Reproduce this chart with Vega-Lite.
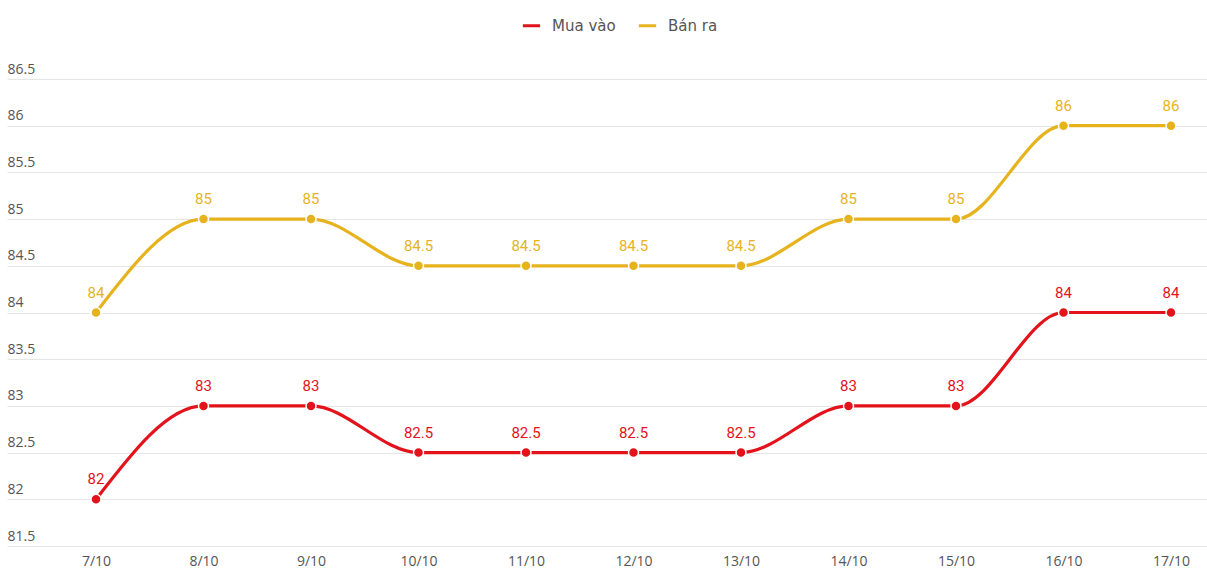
{
  "$schema": "https://vega.github.io/schema/vega-lite/v6.json",
  "width": 1200,
  "height": 467,
  "autosize": {"type": "none"},
  "padding": {"left": 7, "top": 79, "right": 0, "bottom": 37},
  "background": "white",
  "config": {
    "view": {"stroke": null},
    "font": "Open Sans"
  },
  "data": {
    "values": [
      {"date": "7/10", "series": "Mua vào", "value": 82},
      {"date": "8/10", "series": "Mua vào", "value": 83},
      {"date": "9/10", "series": "Mua vào", "value": 83},
      {"date": "10/10", "series": "Mua vào", "value": 82.5},
      {"date": "11/10", "series": "Mua vào", "value": 82.5},
      {"date": "12/10", "series": "Mua vào", "value": 82.5},
      {"date": "13/10", "series": "Mua vào", "value": 82.5},
      {"date": "14/10", "series": "Mua vào", "value": 83},
      {"date": "15/10", "series": "Mua vào", "value": 83},
      {"date": "16/10", "series": "Mua vào", "value": 84},
      {"date": "17/10", "series": "Mua vào", "value": 84},
      {"date": "7/10", "series": "Bán ra", "value": 84},
      {"date": "8/10", "series": "Bán ra", "value": 85},
      {"date": "9/10", "series": "Bán ra", "value": 85},
      {"date": "10/10", "series": "Bán ra", "value": 84.5},
      {"date": "11/10", "series": "Bán ra", "value": 84.5},
      {"date": "12/10", "series": "Bán ra", "value": 84.5},
      {"date": "13/10", "series": "Bán ra", "value": 84.5},
      {"date": "14/10", "series": "Bán ra", "value": 85},
      {"date": "15/10", "series": "Bán ra", "value": 85},
      {"date": "16/10", "series": "Bán ra", "value": 86},
      {"date": "17/10", "series": "Bán ra", "value": 86}
    ]
  },
  "encoding": {
    "x": {
      "field": "date",
      "type": "ordinal",
      "sort": null,
      "scale": {"type": "point", "padding": 0.5814, "align": 0.712},
      "axis": {
        "title": null,
        "labelAngle": 0,
        "domain": false,
        "ticks": false,
        "grid": false,
        "labelPadding": 8,
        "labelFontSize": 14,
        "labelColor": "#555555",
        "labelFont": "Open Sans"
      }
    },
    "y": {
      "field": "value",
      "type": "quantitative",
      "scale": {"domain": [81.5, 86.5], "nice": false, "zero": false},
      "axis": {
        "title": null,
        "values": [81.5, 82, 82.5, 83, 83.5, 84, 84.5, 85, 85.5, 86, 86.5],
        "format": "~g",
        "domain": false,
        "ticks": false,
        "grid": true,
        "gridColor": "#e6e6e6",
        "gridWidth": 1,
        "labelAlign": "left",
        "labelBaseline": "bottom",
        "labelPadding": 0,
        "labelOffset": -3,
        "labelFontSize": 14,
        "labelColor": "#555555",
        "labelFont": "Open Sans"
      }
    },
    "color": {
      "field": "series",
      "type": "nominal",
      "scale": {"domain": ["Mua vào", "Bán ra"], "range": ["#E3131B", "#E6B31E"]},
      "legend": {
        "title": null,
        "orient": "none",
        "direction": "horizontal",
        "legendX": 514,
        "legendY": -64,
        "symbolType": "stroke",
        "symbolStrokeWidth": 3,
        "symbolSize": 300,
        "labelFontSize": 15,
        "labelColor": "#555555",
        "labelFont": "DejaVu Sans",
        "columnPadding": 16,
        "labelOffset": 10
      }
    }
  },
  "layer": [
    {"mark": {"type": "line", "interpolate": "monotone", "strokeWidth": 3.2}},
    {"mark": {"type": "point", "filled": true, "size": 100, "opacity": 1, "stroke": "white", "strokeWidth": 1.5}},
    {
      "mark": {"type": "text", "dy": -20, "fontSize": 15, "font": "Roboto", "baseline": "middle"},
      "encoding": {"text": {"field": "value", "type": "quantitative", "format": "~g"}}
    }
  ]
}
